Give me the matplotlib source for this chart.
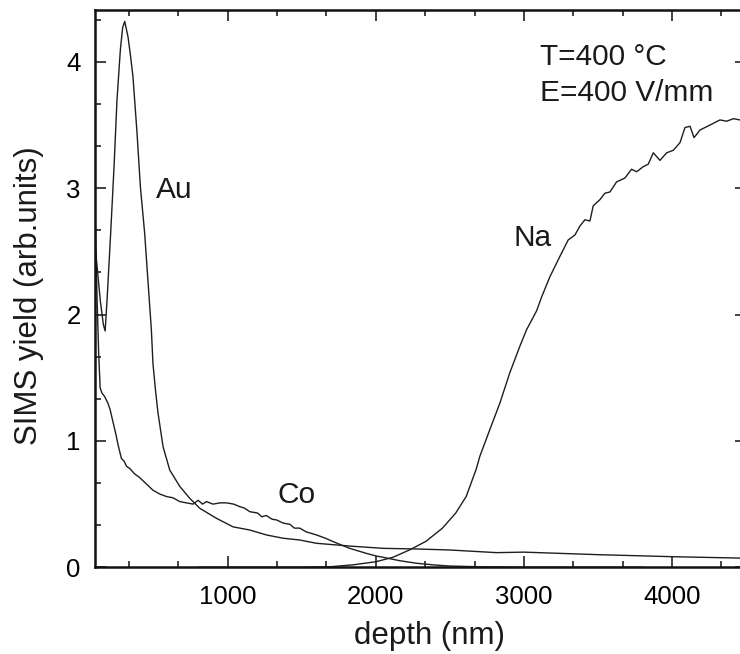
import matplotlib.pyplot as plt
from matplotlib.ticker import MultipleLocator, AutoMinorLocator

plt.rcParams['font.family'] = ['Liberation Sans', 'DejaVu Sans']

# depth (nm) / SIMS yield
au_x = [100, 120, 140, 160, 172, 185, 209, 232, 252, 275, 290, 304, 326, 343,
        360, 387, 410, 439, 462, 484, 495, 512, 529, 563, 608, 676, 743, 811,
        923, 1036, 1149, 1261, 1374, 1486, 1599, 1824, 2050, 2275, 2500, 2815,
        3000, 3500, 4000, 4500]
au_y = [2.6, 2.35, 2.1, 1.92, 1.87, 2.12, 2.64, 3.17, 3.70, 4.10, 4.27, 4.32,
        4.20, 4.05, 3.88, 3.44, 3.01, 2.64, 2.25, 1.88, 1.61, 1.40, 1.22, 0.955,
        0.77, 0.64, 0.546, 0.467, 0.388, 0.32, 0.295, 0.256, 0.23, 0.216, 0.19,
        0.168, 0.15, 0.145, 0.137, 0.116, 0.12, 0.10, 0.084, 0.072]

co_x = [100, 108, 118, 128, 138, 150, 169, 190, 205, 225, 245, 259, 282, 300,
        316, 340, 370, 405, 450, 495, 540, 586, 630, 676, 720, 766, 800, 830,
        856, 900, 950, 991, 1040, 1081, 1110, 1149, 1200, 1230, 1260, 1300,
        1329, 1374, 1420, 1450, 1486, 1530, 1560, 1599, 1660, 1712, 1770, 1824,
        1880, 1937, 2000, 2050, 2162, 2275, 2400, 2500, 2700, 3000, 3800]
co_y = [3.0, 2.6, 2.1, 1.7, 1.42, 1.38, 1.35, 1.30, 1.25, 1.15, 1.05, 0.97,
        0.86, 0.84, 0.80, 0.78, 0.74, 0.71, 0.66, 0.61, 0.58, 0.56, 0.55, 0.52,
        0.51, 0.50, 0.53, 0.50, 0.52, 0.50, 0.51, 0.51, 0.50, 0.48, 0.47, 0.44,
        0.43, 0.40, 0.41, 0.38, 0.375, 0.35, 0.34, 0.31, 0.31, 0.28, 0.27,
        0.256, 0.23, 0.203, 0.175, 0.15, 0.13, 0.11, 0.09, 0.079, 0.052, 0.032,
        0.018, 0.01, 0.004, 0.0, 0.0]

na_x = [800, 1500, 1700, 1850, 2000, 2115, 2227, 2338, 2450, 2540, 2610, 2676,
        2703, 2770, 2838, 2905, 2973, 3018, 3086, 3120, 3176, 3243, 3299, 3345,
        3378, 3412, 3446, 3468, 3514, 3547, 3581, 3626, 3682, 3727, 3761, 3806,
        3840, 3874, 3919, 3964, 4009, 4054, 4088, 4122, 4149, 4189, 4257, 4324,
        4370, 4415, 4459, 4500]
na_y = [0.0, 0.0, 0.005, 0.02, 0.044, 0.079, 0.137, 0.205, 0.31, 0.43, 0.56,
        0.77, 0.88, 1.09, 1.30, 1.54, 1.75, 1.88, 2.03, 2.14, 2.30, 2.46, 2.59,
        2.63, 2.70, 2.75, 2.74, 2.86, 2.91, 2.96, 2.97, 3.05, 3.08, 3.15, 3.13,
        3.17, 3.19, 3.28, 3.22, 3.28, 3.30, 3.36, 3.48, 3.49, 3.40, 3.46, 3.50,
        3.54, 3.53, 3.55, 3.54, 3.55]

fig = plt.figure(figsize=(7.4, 6.54), dpi=100)
ax = fig.add_axes([94.5 / 740, 1 - 567.3 / 654, (746 - 94.5) / 740, (567.3 - 10) / 654])

for xs, ys in [(au_x, au_y), (co_x, co_y), (na_x, na_y)]:
    ax.plot(xs, ys, color='#1e1e1e', lw=1.0)

ax.set_xlim(100, 4500)
ax.set_ylim(0, 4.41)
ax.xaxis.set_major_locator(MultipleLocator(1000))
ax.xaxis.set_minor_locator(AutoMinorLocator(3))
ax.yaxis.set_major_locator(MultipleLocator(1))
ax.yaxis.set_minor_locator(AutoMinorLocator(3))
ax.tick_params(which='both', direction='in', top=True, right=True, width=1.2,
               color='#222222')
ax.tick_params(which='major', length=8)
ax.tick_params(which='minor', length=4)
ax.tick_params(axis='x', labelsize=18.5, pad=13)
ax.tick_params(axis='y', labelsize=18.5, pad=10)
for s in ax.spines.values():
    s.set_linewidth(1.8)
    s.set_color('#111111')

txt = dict(fontsize=21.5, color='#1a1a1a', ha='left', va='baseline')
ax.text(518, 2.92, 'Au', **txt)
ax.text(1335, 0.507, 'Co', **txt)
ax.text(2928, 2.54, 'Na', **txt)
ax.text(3108, 3.977, 'T=400 °C', **txt)
ax.text(3108, 3.686, 'E=400 V/mm', **txt)

fig.text(430 / 740, 1 - 636 / 654, 'depth (nm)', fontsize=22.5, ha='center',
         va='center', color='#1a1a1a')
fig.text(29 / 740, 1 - 296 / 654, 'SIMS yield (arb.units)', fontsize=22.5,
         rotation=90, ha='center', va='center', color='#1a1a1a')

fig.savefig('out.png', dpi=100)
